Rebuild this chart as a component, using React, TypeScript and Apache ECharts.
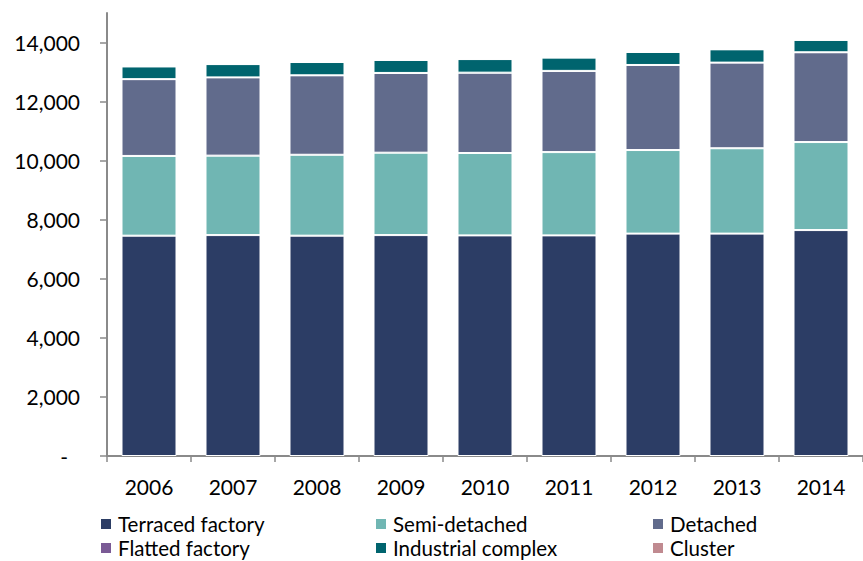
import React, { useEffect, useRef } from "react";
import * as echarts from "echarts";

const years = ["2006", "2007", "2008", "2009", "2010", "2011", "2012", "2013", "2014"];
const seriesNames = [
  "Terraced factory",
  "Semi-detached",
  "Detached",
  "Flatted factory",
  "Industrial complex",
  "Cluster",
];
const terraced = [7460, 7480, 7460, 7480, 7470, 7470, 7530, 7530, 7650];
const semiDetached = [2700, 2690, 2740, 2790, 2790, 2820, 2830, 2890, 2980];
const detached = [2600, 2650, 2690, 2700, 2720, 2750, 2880, 2900, 3040];
const flatted = [0, 0, 0, 0, 0, 0, 0, 0, 0];
const industrial = [430, 450, 450, 440, 460, 450, 440, 450, 420];
const cluster = [0, 0, 0, 0, 0, 0, 0, 0, 0];
const yTicks = [0, 2000, 4000, 6000, 8000, 10000, 12000, 14000];

const colors = ["#2c3d65", "#70b6b3", "#616b8c", "#7a5a95", "#00646e", "#c08a90"];
const values = [terraced, semiDetached, detached, flatted, industrial, cluster];

const FONT = "Lato, 'Open Sans', sans-serif";

// legend slots: three columns, two rows
const legendCols = [99, 374, 651];
const legendRows = [512, 536];

export default function App() {
  const ref = useRef<HTMLDivElement>(null);

  useEffect(() => {
    if (!ref.current) return;
    const chart = echarts.init(ref.current, undefined, { renderer: "svg" });

    const legends = seriesNames.map((name, i) => ({
      show: true,
      data: [name],
      left: legendCols[i % 3],
      top: legendRows[Math.floor(i / 3)],
      padding: 0,
      icon: "rect",
      itemWidth: 12,
      itemHeight: 12,
      itemGap: 0,
      selectedMode: false,
      textStyle: {
        fontFamily: FONT,
        fontSize: 20.5,
        color: "#000",
        padding: [0, 0, 0, 1],
        lineHeight: 24,
      },
    }));

    chart.setOption({
      animation: false,
      color: colors,
      legend: legends,
      grid: { left: 107, right: 0, top: 13, bottom: 105, containLabel: false },
      xAxis: {
        type: "category",
        data: years,
        boundaryGap: true,
        axisLine: { lineStyle: { color: "#8a8a8a", width: 2 } },
        axisTick: { show: true, inside: false, length: 6, lineStyle: { color: "#8a8a8a", width: 1.5 } },
        axisLabel: { fontFamily: FONT, fontSize: 21, color: "#000", margin: 20 },
        splitLine: { show: false },
      },
      yAxis: {
        type: "value",
        min: 0,
        max: 15000,
        interval: 1000,
        axisLine: { show: true, lineStyle: { color: "#8a8a8a", width: 2 } },
        axisTick: {
          show: true,
          length: 7,
          customValues: yTicks,
          lineStyle: { color: "#8a8a8a", width: 1.5 },
        },
        axisLabel: {
          customValues: yTicks,
          fontFamily: FONT,
          fontSize: 21,
          color: "#000",
          margin: 27,
          formatter: (v: number) =>
            v === 0 ? "{z|-}" : v.toLocaleString("en-US"),
          rich: {
            z: { fontFamily: FONT, fontSize: 21, color: "#000", padding: [0, 12, 0, 0] },
          },
        },
        splitLine: { show: false },
      },
      series: seriesNames.map((name, i) => ({
        name,
        type: "bar",
        stack: "total",
        barWidth: 55,
        data: values[i],
        itemStyle: { color: colors[i], borderColor: "#ffffff", borderWidth: 1 },
      })),
    });

    return () => chart.dispose();
  }, []);

  return <div ref={ref} style={{ width: 863, height: 561, position: "absolute", left: 0, top: 0 }} />;
}
